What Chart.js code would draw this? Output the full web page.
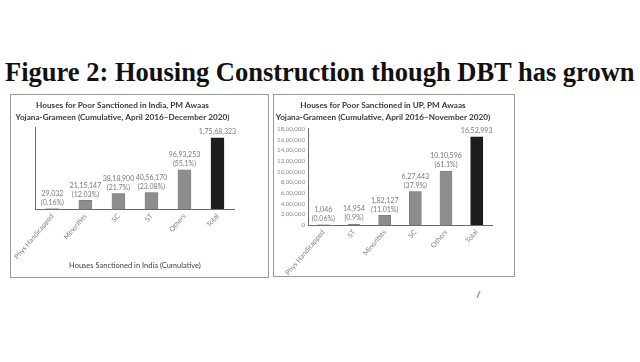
<!DOCTYPE html>
<html>
<head>
<meta charset="utf-8">
<script src="https://cdn.jsdelivr.net/npm/chart.js@4.4.1/dist/chart.umd.min.js"></script>
<style>
  html, body { margin: 0; padding: 0; background: #fff; }
  body { width: 640px; height: 362px; position: relative; overflow: hidden; }
  #heading { position: absolute; left: 5px; top: 57px; white-space: nowrap;
    font-family: "Liberation Serif", serif; font-weight: bold; color: #111; }
  .panel { position: absolute; border: 1.5px solid #9a9a9a; box-sizing: border-box; }
  .panel canvas { position: absolute; left: 0; top: 0; }
  #slash { position: absolute; left: 477px; top: 290px; font: italic 9px "Liberation Sans"; color: #333; }
</style>
</head>
<body>
<div id="heading">Figure 2: Housing Construction though DBT has grown</div>
<div class="panel" style="left:10px;top:94px;width:259px;height:184px;"><canvas id="indiaChart"></canvas></div>
<div class="panel" style="left:273px;top:94px;width:242px;height:183px;"><canvas id="upChart"></canvas></div>
<div id="slash">/</div>
<script>
// Houses sanctioned, PM Awaas Yojana-Grameen (cumulative)
const indiaCategories = ['Phys Handicapped', 'Minorities', 'SC', 'ST', 'Others', 'Total'];
const indiaHouses = [29032, 2115147, 3818900, 4056170, 9693253, 17568323];
const indiaShares = [0.16, 12.03, 21.7, 23.08, 55.1, null];

const upCategories = ['Phys Handicapped', 'ST', 'Minorities', 'SC', 'Others', 'Total'];
const upHouses = [1046, 14954, 182127, 627443, 1010596, 1652993];
const upShares = [0.06, 0.9, 11.01, 37.9, 61.1, null];
const upTicks = [0, 200000, 400000, 600000, 800000, 1000000, 1200000, 1400000, 1600000, 1800000];

const FONT = 'Lato, "Open Sans", sans-serif';

// fit the big heading to the width of the page
(function () {
    const h = document.getElementById('heading');
    const ctx = document.createElement('canvas').getContext('2d');
    ctx.font = 'bold 100px "Liberation Serif"';
    const w = ctx.measureText(h.textContent).width;
    h.style.fontSize = (630 / w * 100).toFixed(2) + 'px';
})();

// indian style grouping: 1,75,68,323
function inr(n) {
    const s = String(Math.round(n));
    if (s.length <= 3) return s;
    return s.slice(0, -3).replace(/\B(?=(\d{2})+(?!\d))/g, ',') + ',' + s.slice(-3);
}

const barLabels = {
    id: 'barLabels',
    afterDatasetsDraw(chart, args, opts) {
        const ctx = chart.ctx;
        const meta = chart.getDatasetMeta(0);
        const values = chart.data.datasets[0].data;
        ctx.save();
        ctx.font = '7px ' + FONT;
        ctx.fillStyle = '#7a7a7a';
        ctx.textAlign = 'center';
        ctx.textBaseline = 'middle';
        meta.data.forEach((bar, i) => {
            const lines = [inr(values[i])];
            if (opts.shares[i] !== null) lines.push('(' + opts.shares[i] + '%)');
            lines.forEach((t, k) => {
                ctx.fillText(t, bar.x, bar.y - 6 - (lines.length - 1 - k) * 9);
            });
        });
        ctx.restore();
    }
};

function makeChart(id, w, h, cfg) {
    const el = document.getElementById(id);
    el.width = w; el.height = h;
    el.style.width = w + 'px'; el.style.height = h + 'px';
    return new Chart(el, {
        type: 'bar',
        data: {
            labels: cfg.labels,
            datasets: [{
                data: cfg.values,
                backgroundColor: cfg.values.map((v, i) => i === cfg.values.length - 1 ? '#1d1d1d' : '#8d8d8d'),
                borderColor: cfg.values.map((v, i) => i === cfg.values.length - 1 ? '#111' : '#6f6f6f'),
                borderWidth: 0.5,
                barThickness: cfg.barWidth
            }]
        },
        options: {
            responsive: false,
            animation: false,
            layout: { padding: { left: 0, right: cfg.padRight, top: 0, bottom: 0 } },
            plugins: {
                legend: { display: false },
                tooltip: { enabled: false },
                title: {
                    display: true,
                    text: cfg.title,
                    color: '#3a3a3a',
                    font: { family: FONT, size: 8.2, weight: 'bold', lineHeight: 1.4 },
                    padding: { top: 5, bottom: cfg.titleGap }
                },
                barLabels: { shares: cfg.shares }
            },
            scales: {
                x: {
                    grid: { display: false, drawTicks: false },
                    border: { display: true, color: '#6a6a6a', width: 1 },
                    ticks: {
                        color: '#7d7d7d', font: { family: FONT, size: 7 },
                        minRotation: 50, maxRotation: 50, padding: 3, autoSkip: false
                    },
                    title: {
                        display: !!cfg.xTitle, text: cfg.xTitle, color: '#444',
                        font: { family: FONT, size: 7.5 }, padding: { top: 0, bottom: 6 }
                    },
                    afterFit: s => { s.height = cfg.xHeight; }
                },
                y: {
                    min: 0,
                    max: cfg.yMax,
                    grid: { display: false, drawTicks: false },
                    border: { display: true, color: '#6a6a6a', width: 1 },
                    afterBuildTicks: s => { if (cfg.ticks) s.ticks = cfg.ticks.map(v => ({ value: v })); },
                    ticks: {
                        display: !!cfg.ticks, color: '#8a8a8a', padding: 3, autoSkip: false,
                        font: { family: FONT, size: 6.2 },
                        callback: v => inr(v)
                    },
                    afterFit: s => { s.width = cfg.yWidth; }
                }
            }
        },
        plugins: [barLabels]
    });
}

makeChart('indiaChart', 256, 181, {
    labels: indiaCategories,
    values: indiaHouses,
    shares: indiaShares,
    title: ['Houses for Poor Sanctioned in India, PM Awaas', 'Yojana-Grameen (Cumulative, April 2016\u2013December 2020)'],
    titleGap: 5,
    xTitle: 'Houses Sanctioned in India (Cumulative)',
    yMax: 20000000,
    ticks: null,
    barWidth: 13,
    padRight: 33,
    xHeight: 67,
    yWidth: 22
});

makeChart('upChart', 239, 180, {
    labels: upCategories,
    values: upHouses,
    shares: upShares,
    title: ['Houses for Poor Sanctioned in UP, PM Awaas', 'Yojana-Grameen (Cumulative, April 2016\u2013November 2020)'],
    titleGap: 6,
    xTitle: '',
    yMax: 1800000,
    ticks: upTicks,
    barWidth: 12,
    padRight: 21,
    xHeight: 50,
    yWidth: 34
});
</script>
</body>
</html>
